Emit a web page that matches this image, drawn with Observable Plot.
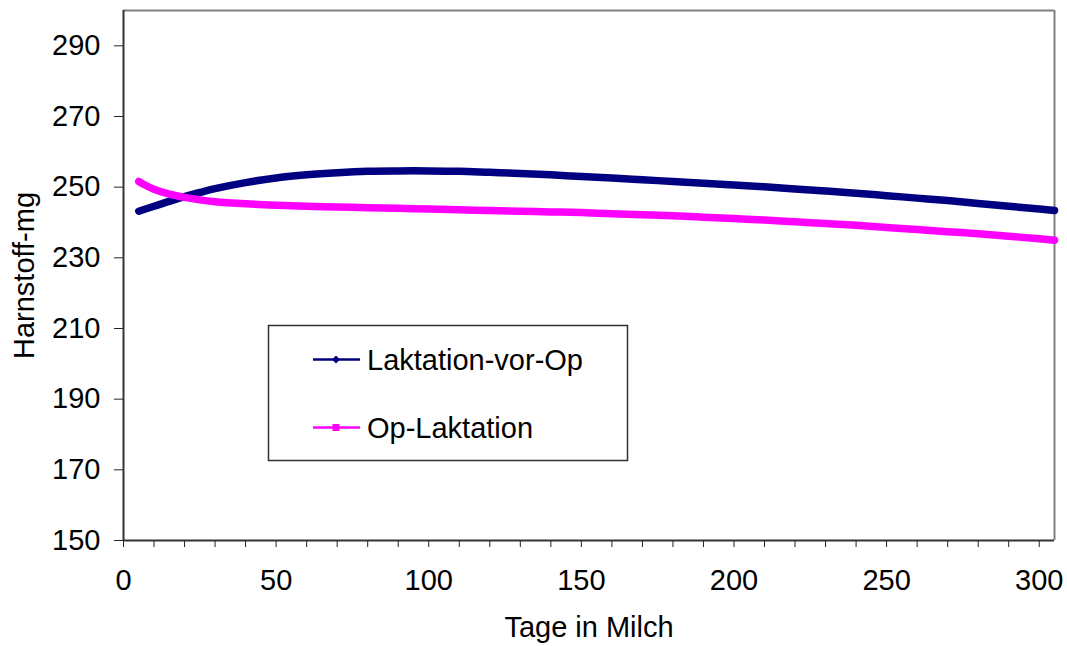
<!DOCTYPE html>
<html><head><meta charset="utf-8">
<script src="https://cdn.jsdelivr.net/npm/d3@7"></script>
<script src="https://cdn.jsdelivr.net/npm/@observablehq/plot@0.6"></script>
<style>
body{margin:0;background:#fff;}
#wrap{position:relative;width:1067px;height:646px;font-family:"Liberation Sans",Arial,sans-serif;}
#legend{position:absolute;left:0;top:0;pointer-events:none;}
</style></head><body><div id="wrap"></div>
<script>
// Series: Laktation-vor-Op
const vorDays = [5,10,15,20,25,30,40,50,60,70,80,90,100,110,120,130,140,150,160,170,180,190,200,210,220,230,240,250,260,270,280,290,300,305];
const vorValues = [243.2,244.6,246.0,247.3,248.5,249.6,251.3,252.6,253.5,254.1,254.5,254.6,254.6,254.5,254.2,253.9,253.5,253.0,252.6,252.1,251.6,251.1,250.6,250.1,249.5,248.9,248.3,247.6,246.9,246.2,245.4,244.6,243.8,243.4];
// Series: Op-Laktation
const opDays = [5,7,10,15,20,25,30,40,50,60,70,80,90,100,110,120,130,140,150,160,170,180,190,200,210,220,230,240,250,260,270,280,290,300,305];
const opValues = [251.6,250.6,249.4,248.0,247.1,246.4,245.9,245.3,244.9,244.6,244.4,244.2,244.0,243.8,243.6,243.4,243.2,243.0,242.8,242.5,242.2,241.9,241.5,241.1,240.7,240.2,239.7,239.2,238.6,238.0,237.4,236.8,236.1,235.4,235.0];

const seriesNames = ["Laktation-vor-Op", "Op-Laktation"];
const seriesColors = ["#000080", "#ff00ff"];
const xTicks = d3.range(0, 301, 10);
const yTicks = d3.range(150, 291, 20);
const xLabel = "Tage in Milch";
const yLabel = "Harnstoff-mg";

const data = [
  ...vorDays.map((d, i) => ({day: d, v: vorValues[i], s: seriesNames[0]})),
  ...opDays.map((d, i) => ({day: d, v: opValues[i], s: seriesNames[1]}))
];

const font = "Liberation Sans, Arial, sans-serif";
const fs = 29;
const chart = Plot.plot({
  width: 1067, height: 646,
  marginLeft: 123, marginTop: 10, marginRight: 13, marginBottom: 106,
  style: {fontFamily: font, fontSize: fs + "px", color: "#000", background: "#fff"},
  x: {domain: [0, 305]},
  y: {domain: [150, 300]},
  color: {domain: seriesNames, range: seriesColors},
  marks: [
    Plot.ruleY([300], {stroke: "#808080", strokeWidth: 2}),
    Plot.ruleX([305], {stroke: "#808080", strokeWidth: 2}),
    Plot.axisX({ticks: xTicks, tickSize: 7, tickPadding: 22, fontSize: fs, stroke: "#222", strokeOpacity: 1,
      tickFormat: d => d % 50 === 0 ? String(d) : "", label: null}),
    Plot.axisY({ticks: yTicks, tickSize: 9, tickPadding: 14, fontSize: fs, stroke: "#222", strokeOpacity: 1, label: null}),
    Plot.ruleX([0], {stroke: "#333", strokeWidth: 2}),
    Plot.ruleY([150], {stroke: "#333", strokeWidth: 2}),
    Plot.line(data, {x: "day", y: "v", z: "s", stroke: "s", strokeWidth: 7.5, curve: "catmull-rom", strokeLinecap: "round"}),
    Plot.text([xLabel], {frameAnchor: "bottom", dy: 87, lineAnchor: "middle", textAnchor: "middle", fontSize: fs, fill: "#000"}),
    Plot.text([yLabel], {frameAnchor: "left", rotate: -90, dx: -99, lineAnchor: "middle", textAnchor: "middle", fontSize: fs, fill: "#000"})
  ]
});
const wrap = document.getElementById("wrap");
wrap.appendChild(chart);

// Legend overlay
const svg = d3.select(wrap).append("svg").attr("id", "legend").attr("width", 1067).attr("height", 646);
svg.append("rect").attr("x", 268.5).attr("y", 325.5).attr("width", 359).attr("height", 135)
  .attr("fill", "#fff").attr("stroke", "#333").attr("stroke-width", 1.5);
const rows = [359.5, 427.5];
seriesNames.forEach((name, i) => {
  const g = svg.append("g").attr("transform", `translate(0,${rows[i]})`);
  g.append("line").attr("x1", 313).attr("x2", 360).attr("y1", 0).attr("y2", 0)
    .attr("stroke", seriesColors[i]).attr("stroke-width", 2.7);
  if (i === 0) {
    g.append("path").attr("d", "M336,-4L340,0L336,4L332,0Z").attr("fill", seriesColors[i]);
  } else {
    g.append("rect").attr("x", 332.5).attr("y", -3.5).attr("width", 7).attr("height", 7).attr("fill", seriesColors[i]);
  }
  g.append("text").attr("x", 367).attr("y", 0).attr("dy", "0.35em")
    .attr("font-family", font).attr("font-size", fs).attr("fill", "#000").text(name);
});
</script></body></html>
